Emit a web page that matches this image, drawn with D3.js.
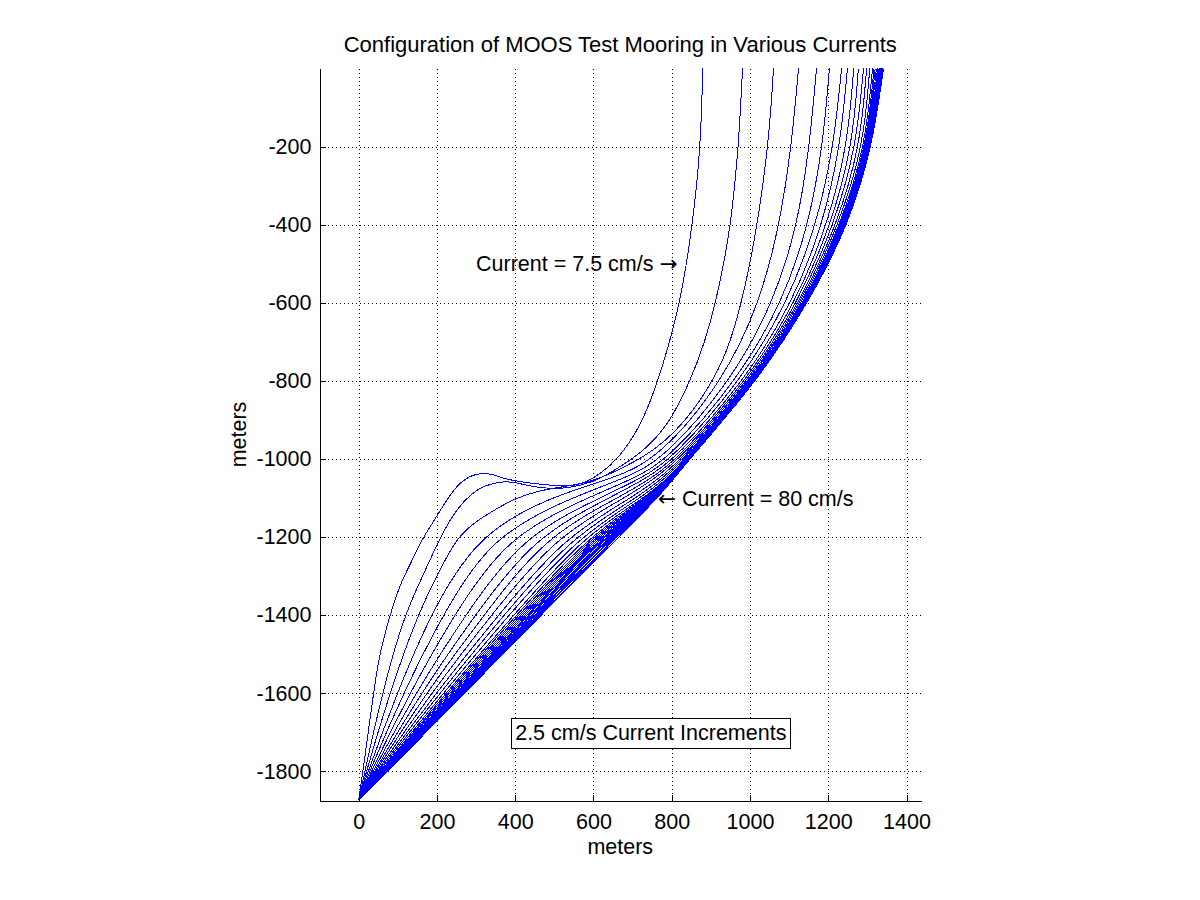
<!DOCTYPE html>
<html>
<head>
<meta charset="utf-8">
<script src="https://cdn.jsdelivr.net/npm/d3@7"></script>
<style>
    body { margin: 0; background: #ffffff; }
    #MooringChart { width: 1200px; height: 900px; }
    text { font-family: "Liberation Sans", Arial, sans-serif; }
</style>
</head>
<body>
<div id="MooringChart"></div>
<script>
// current speed of each curve, cm/s
const currents = [7.5, 10, 12.5, 15, 17.5, 20, 22.5, 25, 27.5, 30, 32.5, 35, 37.5, 40, 42.5,
    45, 47.5, 50, 52.5, 55, 57.5, 60, 62.5, 65, 67.5, 70, 72.5, 75, 77.5, 80];

// the three slackest moorings fold over, so they are kept as [x, z] points
const slackProfiles = [
    [[0, -1875], [11, -1800], [38, -1600], [53, -1500], [80, -1400], [107, -1318], [133, -1268], [163, -1203],
     [197, -1152], [235, -1088], [268, -1052], [301, -1037], [337, -1037], [363, -1048], [406, -1058],
     [465, -1065], [510, -1069], [549, -1070], [585, -1058], [618, -1037], [660, -1004], [720, -919],
     [763, -807], [795, -700], [820, -600], [838, -500], [852, -400], [864, -300], [872, -200],
     [877, -100], [879, 0]],
    [[0, -1875], [16, -1800], [60, -1600], [116, -1400], [171, -1285], [208, -1200], [253, -1124], [290, -1088],
     [320, -1068], [370, -1057], [400, -1060], [447, -1072], [498, -1077], [549, -1073], [600, -1058],
     [636, -1040], [680, -1012], [720, -986], [789, -919], [848, -800], [885, -700], [912, -600],
     [933, -500], [950, -400], [961, -300], [970, -200], [976, -100], [981, 0]],
    [[0, -1875], [20, -1800], [79, -1600], [150, -1400], [207, -1285], [252, -1200], [300, -1160], [345, -1132],
     [401, -1100], [465, -1080], [534, -1070], [593, -1058], [640, -1040], [700, -1010], [760, -975],
     [840, -901], [915, -785], [950, -700], [978, -600], [1000, -500], [1018, -400], [1033, -300],
     [1045, -200], [1054, -100], [1060, 0]]
];

// the rest: horizontal offset (m) at each of these depths
const depthLevels = [-1875, -1800, -1600, -1400, -1200, -1100, -1050, -1000, -800, -600, -400, -200, 0];
const offsetsAtDepth = [
    [0, 24, 98, 182, 299, 480, 650, 766, 932, 1025, 1076, 1106, 1124],
    [0, 28, 114, 214, 337, 540, 680, 781, 952, 1060, 1122, 1152, 1170],
    [0, 32, 130, 243, 378, 582, 705, 793, 966, 1083, 1150, 1186, 1203],
    [0, 36, 145, 272, 416, 615, 722, 802, 977, 1096, 1170, 1214, 1234],
    [0, 40, 159, 297, 448, 640, 735, 810, 986, 1109, 1186, 1231, 1249],
    [0, 43, 172, 320, 475, 662, 748, 816, 992, 1117, 1198, 1249, 1265],
    [0, 47, 185, 339, 501, 680, 757, 821, 997, 1123, 1207, 1262, 1277],
    [0, 50, 197, 357, 525, 697, 768, 826, 1001, 1128, 1215, 1272, 1290],
    [0, 53, 207, 371, 543, 711, 776, 830, 1004, 1132, 1222, 1282, 1298],
    [0, 56, 216, 384, 559, 722, 783, 833, 1007, 1136, 1227, 1290, 1306],
    [0, 58, 222, 397, 572, 731, 789, 836, 1009, 1139, 1232, 1295, 1313],
    [0, 60, 227, 403, 585, 735, 792, 837, 1010, 1140, 1235, 1298, 1317],
    [0, 62, 232, 409, 592, 739, 795, 838, 1011, 1141, 1237, 1300, 1320],
    [0, 63, 237, 414, 599, 742, 797, 839, 1012, 1142, 1239, 1302, 1323],
    [0, 64, 242, 419, 605, 745, 799, 840, 1012, 1143, 1241, 1304, 1326],
    [0, 65, 246, 424, 611, 748, 800, 840, 1013, 1144, 1243, 1305, 1328],
    [0, 66, 250, 429, 617, 750, 801, 841, 1014, 1144, 1244, 1306, 1330],
    [0, 67, 253, 433, 622, 752, 802, 841, 1014, 1145, 1245, 1307, 1332],
    [0, 68, 256, 437, 627, 754, 803, 842, 1015, 1146, 1246, 1308, 1334],
    [0, 69, 259, 441, 632, 756, 803, 842, 1015, 1146, 1247, 1309, 1335],
    [0, 70, 261, 445, 637, 758, 804, 843, 1016, 1147, 1248, 1310, 1336],
    [0, 71, 263, 449, 642, 759, 804, 843, 1016, 1147, 1249, 1310, 1337],
    [0, 71, 265, 452, 647, 760, 805, 844, 1017, 1148, 1250, 1311, 1338],
    [0, 72, 267, 456, 651, 761, 805, 844, 1017, 1148, 1250, 1311, 1339],
    [0, 73, 268, 459, 656, 762, 806, 845, 1018, 1149, 1251, 1312, 1340],
    [0, 73, 270, 463, 660, 763, 806, 845, 1018, 1149, 1251, 1312, 1340],
    [0, 74, 271, 466, 665, 764, 806, 846, 1019, 1150, 1252, 1313, 1341]
];

const xTicks = [0, 200, 400, 600, 800, 1000, 1200, 1400];
const yTicks = [-1800, -1600, -1400, -1200, -1000, -800, -600, -400, -200];
const xLimits = [-100, 1437];
const yLimits = [-1875, 0];

const titleText = "Configuration of MOOS Test Mooring in Various Currents";
// MATLAB style text: left edge + vertical middle at the data point
const notes = [
    { label: "Current = 7.5 cm/s \u2192", x: 300, y: -500, boxed: false },
    { label: "\u2190 Current = 80 cm/s", x: 765, y: -1100, boxed: false },
    { label: "2.5 cm/s Current Increments", x: 400, y: -1700, boxed: true }
];

class MooringChart {
    constructor(id) {
        this.w = document.getElementById(id).clientWidth;
        this.h = document.getElementById(id).clientHeight;
        this.box = { left: 319.5, right: 921, top: 68.5, bottom: 800.5 };
        this.fontSize = 21.5;

        this.svg = d3.select("#" + id).append("svg")
            .attr("width", this.w)
            .attr("height", this.h);

        // SCALES
        this.x = d3.scaleLinear().domain(xLimits).range([this.box.left, this.box.right]);
        this.y = d3.scaleLinear().domain(yLimits).range([this.box.bottom, this.box.top]);

        this.line = d3.line()
            .x((d) => this.x(d[0]))
            .y((d) => this.y(d[1]))
            .curve(d3.curveBasis);

        this.profiles = slackProfiles.concat(
            offsetsAtDepth.map((row) => row.map((v, i) => [v, depthLevels[i]])));

        this.drawGrid();
        this.drawCurves();
        this.drawAxes();
        this.drawText();
    }

    drawGrid() {
        const grid = this.svg.append("g").attr("class", "grid")
            .attr("stroke", "#000").attr("stroke-width", 1)
            .attr("stroke-dasharray", "1,3").attr("shape-rendering", "crispEdges");

        grid.selectAll(".vgrid").data(xTicks).enter().append("line")
            .attr("class", "vgrid")
            .attr("x1", (d) => Math.round(this.x(d)) + 0.5)
            .attr("x2", (d) => Math.round(this.x(d)) + 0.5)
            .attr("y1", this.box.top).attr("y2", this.box.bottom);

        grid.selectAll(".hgrid").data(yTicks).enter().append("line")
            .attr("class", "hgrid")
            .attr("y1", (d) => Math.round(this.y(d)) + 0.5)
            .attr("y2", (d) => Math.round(this.y(d)) + 0.5)
            .attr("x1", this.box.left).attr("x2", this.box.right);
    }

    drawCurves() {
        // MATLAB draws these without antialiasing, so the dense band reads as solid blue
        this.svg.append("g").attr("class", "curves")
            .attr("shape-rendering", "crispEdges")
            .selectAll(".line").data(this.profiles).enter()
            .append("path")
            .attr("class", "line")
            .attr("data-current", (d, i) => currents[i])
            .attr("d", (d) => this.line(d))
            .attr("fill", "none")
            .attr("stroke", "#0000ff")
            .attr("stroke-width", 1);
    }

    drawAxes() {
        // AXES (MATLAB style: inward ticks, no box)
        this.xAxis = this.svg.append("g").attr("class", "x axis")
            .attr("transform", "translate(0," + this.box.bottom + ")")
            .call(d3.axisBottom(this.x).tickValues(xTicks).tickFormat((d) => String(d))
                .tickSizeInner(-6).tickSizeOuter(0).tickPadding(13));

        this.yAxis = this.svg.append("g").attr("class", "y axis")
            .attr("transform", "translate(" + this.box.left + ",0)")
            .call(d3.axisLeft(this.y).tickValues(yTicks).tickFormat((d) => String(d))
                .tickSizeInner(-6).tickSizeOuter(0).tickPadding(8));

        this.svg.selectAll(".axis")
            .attr("font-size", this.fontSize)
            .attr("font-family", "'Liberation Sans', Arial, sans-serif")
            .attr("shape-rendering", "crispEdges");
        this.svg.selectAll(".axis text").attr("fill", "#000");
    }

    drawText() {
        const fs = this.fontSize;
        const mid = (this.box.left + this.box.right) / 2;

        this.svg.append("text")
            .attr("x", mid).attr("y", 52)
            .attr("text-anchor", "middle")
            .attr("font-size", 22)
            .text(titleText);

        this.svg.append("text")
            .attr("x", mid).attr("y", 854)
            .attr("text-anchor", "middle")
            .attr("font-size", fs)
            .text("meters");

        this.svg.append("text")
            .attr("transform", "translate(246," + (this.box.top + this.box.bottom) / 2 + ") rotate(-90)")
            .attr("text-anchor", "middle")
            .attr("font-size", fs)
            .text("meters");

        notes.forEach((n) => {
            const g = this.svg.append("g").attr("class", "note");
            const t = g.append("text")
                .attr("x", this.x(n.x)).attr("y", this.y(n.y))
                .attr("dy", "0.36em")
                .attr("font-size", fs);
            // arrows come from DejaVu, whose glyphs are long like TeX \rightarrow
            n.label.split(/([\u2190\u2192])/).filter((s) => s.length).forEach((part) => {
                const span = t.append("tspan").text(part);
                if (/[\u2190\u2192]/.test(part)) span.attr("font-family", "'DejaVu Sans'");
            });
            if (n.boxed) {
                const bb = t.node().getBBox();
                g.insert("rect", "text")
                    .attr("x", Math.round(bb.x - 4) + 0.5)
                    .attr("y", Math.round(bb.y - 3) + 0.5)
                    .attr("width", Math.round(bb.width + 8))
                    .attr("height", Math.round(bb.height + 6))
                    .attr("fill", "#fff")
                    .attr("stroke", "#000")
                    .attr("stroke-width", 1);
            }
        });
    }
}

new MooringChart("MooringChart");
</script>
</body>
</html>
